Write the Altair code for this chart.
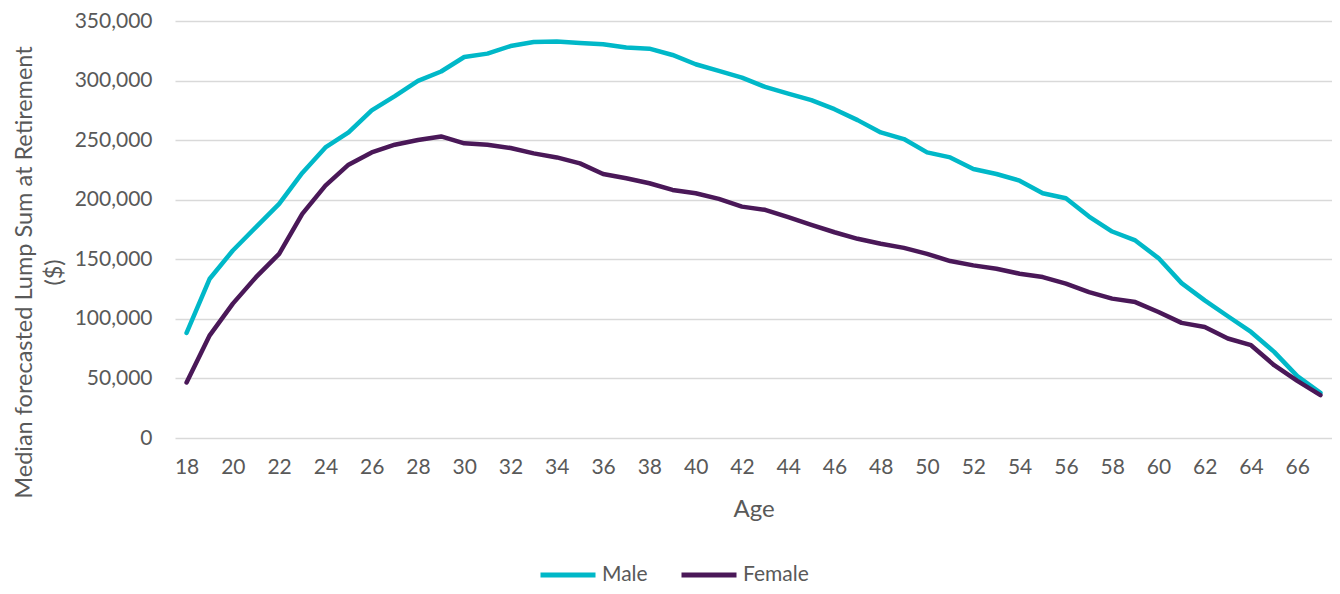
import altair as alt
import pandas as pd

ages = list(range(18, 68))
male = [88200, 133700, 157400, 177000, 196500, 222500, 243900, 256500, 275000, 287000,
        299700, 307600, 319800, 322600, 329000, 332400, 332700, 331600, 330500, 327700,
        326800, 321500, 313700, 308100, 302500, 294700, 289100, 283600, 276000, 266800,
        256500, 250900, 239700, 235500, 225800, 221600, 216000, 205400, 201200, 185900,
        173300, 165800, 151000, 130000, 115500, 102200, 89000, 72300, 51900, 37900]
female = [46600, 86200, 112800, 135000, 154600, 188100, 211800, 229400, 239700, 246200,
          250100, 253100, 247300, 246200, 243400, 238900, 235500, 230500, 221600, 218000,
          213800, 208200, 205400, 200700, 194200, 191500, 185300, 178900, 172700, 167200,
          163000, 159600, 154600, 148500, 144900, 142100, 137900, 135100, 129500, 122500,
          117000, 114100, 105800, 96600, 93200, 83500, 77900, 61100, 48000, 36000]
series = ["Male", "Female"]
colors = ["#00B8C8", "#4A1858"]
y_ticks = [0, 50000, 100000, 150000, 200000, 250000, 300000, 350000]
x_ticks = list(range(18, 67, 2))

rows = []
for a, m, f in zip(ages, male, female):
    rows.append({"Age": a, "Series": "Male", "Value": m})
    rows.append({"Age": a, "Series": "Female", "Value": f})
df = pd.DataFrame(rows)

FONT = "Lato"
GREY = "#595959"

chart = alt.Chart(df).mark_line(strokeWidth=4.5, strokeCap="round", strokeJoin="round").encode(
    x=alt.X("Age:Q",
            scale=alt.Scale(domain=[17.5, 67.5], nice=False, zero=False),
            axis=alt.Axis(values=x_ticks, grid=False, domain=False, ticks=False,
                          labelPadding=18, labelFontSize=21, labelColor=GREY, labelFont=FONT,
                          title="Age", titleFontSize=24, titleColor=GREY, titleFont=FONT,
                          titleFontWeight="normal", titleY=71, titleBaseline="middle")),
    y=alt.Y("Value:Q",
            scale=alt.Scale(domain=[0, 350000], nice=False),
            axis=alt.Axis(values=y_ticks, format=",.0f", grid=True, gridColor="#D9D9D9", gridWidth=1.5,
                          domain=False, ticks=False, labelPadding=23, labelFontSize=21,
                          labelColor=GREY, labelFont=FONT,
                          title=["Median forecasted Lump Sum at Retirement", "($)"],
                          titleFontSize=23.5, titleColor=GREY, titleFont=FONT, titleFontWeight="normal",
                          titleAngle=270, titleAlign="center", titleBaseline="top",
                          titleX=-163, titleY=251, titleLineHeight=30)),
    color=alt.Color("Series:N",
                    scale=alt.Scale(domain=series, range=colors),
                    sort=series,
                    legend=alt.Legend(title=None, orient="none", legendX=363, legendY=524,
                                      direction="horizontal", symbolType="stroke",
                                      symbolSize=3025, symbolStrokeWidth=5, padding=0,
                                      labelFontSize=21, labelColor=GREY, labelFont=FONT,
                                      labelOffset=4, columnPadding=23)),
).properties(
    width=1157, height=417,
    autosize=alt.AutoSizeParams(type="none"),
    padding={"left": 167, "top": 13, "right": 0, "bottom": 148},
).configure_view(stroke=None)

chart.save("out.html", embed_options={"renderer": "svg", "actions": False})
